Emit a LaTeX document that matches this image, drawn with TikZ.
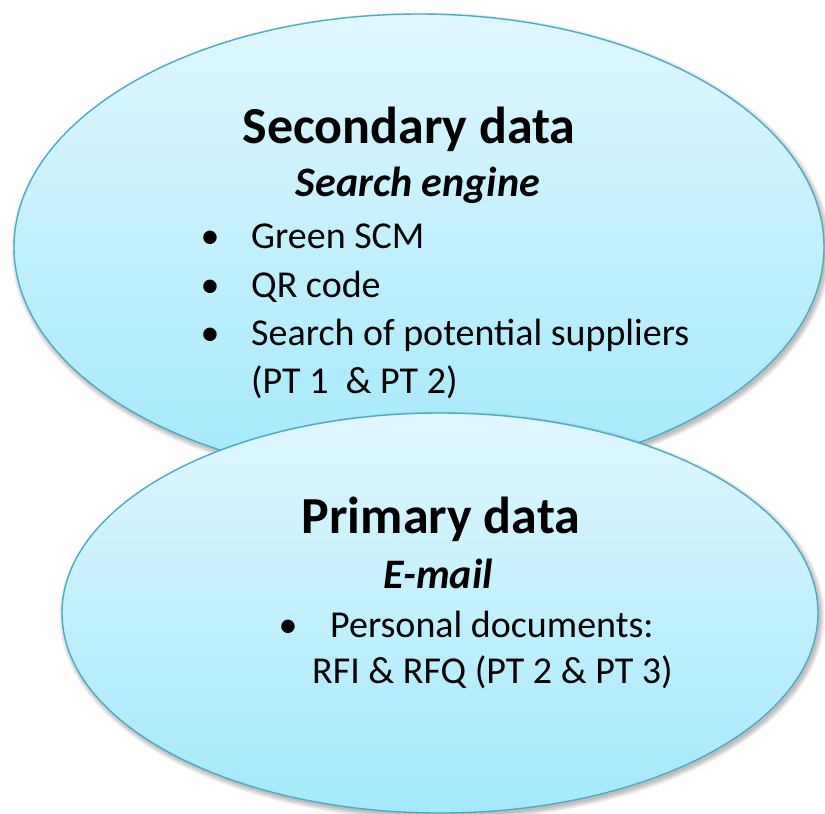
\documentclass[tikz,border=0pt]{standalone}
\usepackage{fontspec}
\setmainfont{Carlito}
\definecolor{edgeblue}{RGB}{75,172,198}
\definecolor{topfill}{RGB}{224,247,254}
\definecolor{botfill}{RGB}{163,233,252}
\tikzset{
  bubble/.style={draw=edgeblue, line width=1.4pt, top color=topfill, bottom color=botfill},
  softshade/.style={fill=black, fill opacity=0.07, draw=none},
  titletext/.style={anchor=base, inner sep=0pt, font=\fontsize{52}{60}\selectfont\bfseries},
  subtext/.style={anchor=base, inner sep=0pt, font=\fontsize{42}{50}\selectfont\bfseries\itshape},
  itemtext/.style={anchor=base west, inner sep=0pt, font=\fontsize{38}{46}\selectfont},
  dot/.style={anchor=base, inner sep=0pt, font=\fontsize{38}{46}\selectfont}
}
\begin{document}
\begin{tikzpicture}[x=1pt, y=-1pt]
\useasboundingbox (0,0) rectangle (825,814);
% top ellipse with soft shadow
\foreach \r in {0,1.5,3,4.5}{
  \path[softshade] (421,250) ellipse [x radius=405+\r, y radius=233+\r];
}
\path[bubble] (419,247) ellipse [x radius=405, y radius=233];
\node[titletext] (sec) at (409,143) {Secondary data};
\node[subtext] (seng) at (418,196) {Search engine};
\node[dot] (b1) at (210,248) {•};
\node[itemtext] (i1) at (251,248) {Green SCM};
\node[dot] (b2) at (210,297) {•};
\node[itemtext] (i2) at (251,297) {QR code};
\node[dot] (b3) at (210,345) {•};
\node[itemtext] (i3) at (251,345) {Search of potential suppliers};
\node[itemtext] (i3b) at (251,393) {(PT 1\ \ \& PT 2)};
% bottom ellipse with soft shadow
\foreach \r in {0,1.5,3,4.5}{
  \path[softshade] (442,616) ellipse [x radius=378+\r, y radius=200+\r];
}
\path[bubble] (440,613) ellipse [x radius=378, y radius=200];
\node[titletext] (pri) at (441,533) {Primary data};
\node[subtext] (mail) at (438,588) {E-mail};
\node[dot] (b4) at (288,637) {•};
\node[itemtext] (i4) at (330,637) {Personal documents:};
\node[itemtext] (i4b) at (312,683) {RFI \& RFQ (PT 2 \& PT 3)};
\end{tikzpicture}
\end{document}
